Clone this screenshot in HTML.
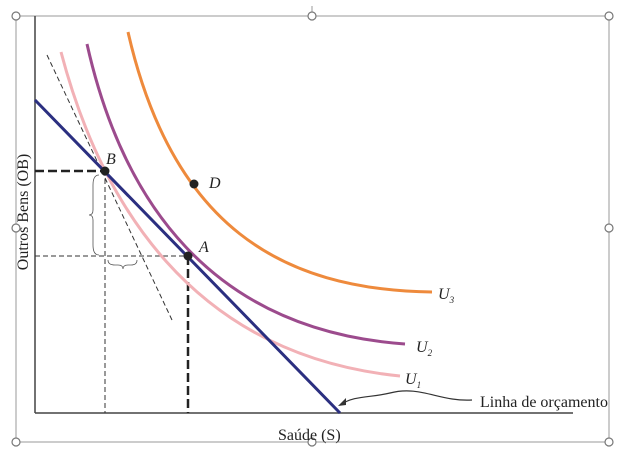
<!DOCTYPE html>
<html><head><meta charset="utf-8"><style>body{margin:0;background:#fff}svg{display:block}</style></head><body>
<svg width="618" height="452" viewBox="0 0 618 452" xmlns="http://www.w3.org/2000/svg" font-family="Liberation Serif, serif">
<rect width="618" height="452" fill="#fff"/>
<rect x="16" y="16" width="593" height="426" fill="none" stroke="#999" stroke-width="1"/>
<line x1="312" y1="6" x2="312" y2="14" stroke="#999"/>
<g fill="#fff" stroke="#777" stroke-width="1.2">
<circle cx="16" cy="16" r="4"/><circle cx="312" cy="16" r="4"/><circle cx="609" cy="16" r="4"/>
<circle cx="16" cy="228" r="4"/><circle cx="609" cy="228" r="4"/>
<circle cx="16" cy="442" r="4"/><circle cx="312" cy="442" r="4"/><circle cx="609" cy="442" r="4"/>
</g>
<line x1="35" y1="16" x2="35" y2="413" stroke="#444" stroke-width="1.5"/>
<line x1="35" y1="413" x2="573" y2="413" stroke="#444" stroke-width="1.5"/>
<line x1="35" y1="171" x2="105" y2="171" stroke="#222" stroke-width="2.5" stroke-dasharray="9,4"/>
<line x1="188" y1="256" x2="188" y2="413" stroke="#222" stroke-width="2.5" stroke-dasharray="9,4"/>
<line x1="105" y1="171" x2="105" y2="413" stroke="#333" stroke-width="1" stroke-dasharray="5,3"/>
<line x1="35" y1="256" x2="188" y2="256" stroke="#333" stroke-width="1" stroke-dasharray="5,3"/>
<line x1="47" y1="55" x2="172" y2="320" stroke="#333" stroke-width="1" stroke-dasharray="5,3"/>
<path d="M99,175 Q93,175 93,185 L93,210 Q93,215 89,215 Q93,215 93,220 L93,245 Q93,255 99,255" fill="none" stroke="#555" stroke-width="0.8"/>
<path d="M108,260 Q108,265 115,265 L118,265 Q123,265 123,269 Q123,265 128,265 L131,265 Q137,265 137,260" fill="none" stroke="#555" stroke-width="0.8"/>
<path d="M61,52 C 100,200 190,355 400,376" fill="none" stroke="#f2b1b6" stroke-width="3"/>
<path d="M87,44 C 122,200 210,330 405,344" fill="none" stroke="#9c4b8d" stroke-width="3"/>
<path d="M128,32 C 172,225 280,290 432,292" fill="none" stroke="#ee8a3c" stroke-width="3"/>
<line x1="35" y1="100" x2="340" y2="413" stroke="#2b2f80" stroke-width="3"/>
<g fill="#222"><circle cx="105" cy="171" r="4.5"/><circle cx="188" cy="256" r="4.5"/><circle cx="194" cy="184" r="4.5"/></g>
<g font-style="italic" font-size="16" fill="#222">
<text x="106" y="164">B</text><text x="199" y="252">A</text><text x="209" y="188">D</text>
<text x="438" y="299">U<tspan font-size="9" dy="4">3</tspan></text>
<text x="416" y="352">U<tspan font-size="9" dy="4">2</tspan></text>
<text x="405" y="384">U<tspan font-size="9" dy="4">1</tspan></text>
</g>
<path d="M472,400 C440,402 420,385 390,393 C370,398 355,395 340,405" fill="none" stroke="#333" stroke-width="1.2"/>
<path d="M338,406 L346,398 L346,405 Z" fill="#333"/>
<text x="480" y="407" font-size="16" fill="#222">Linha de orçamento</text>
<text x="278" y="440" font-size="16" fill="#222">Saúde (S)</text>
<text transform="translate(28,212) rotate(-90)" text-anchor="middle" font-size="16" fill="#222">Outros Bens (OB)</text>
</svg>
</body></html>
